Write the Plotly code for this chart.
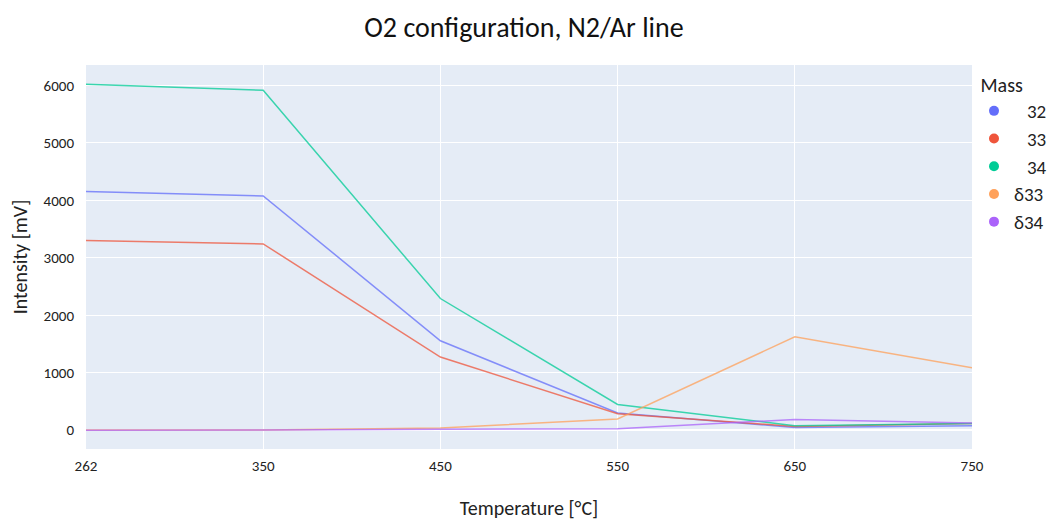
import plotly.graph_objects as go

temperatures = ["262", "350", "450", "550", "650", "750"]
series_names = ["32", "33", "34", "δ33", "δ34"]
mass_32 = [4153, 4078, 1557, 299, 49, 78]
mass_33 = [3301, 3243, 1273, 287, 66, 118]
mass_34 = [6022, 5917, 2292, 449, 78, 118]
delta_33 = [2, 3, 40, 195, 1626, 1087]
delta_34 = [1, 2, 17, 26, 188, 125]
colors = ["#636efa", "#EF553B", "#00cc96", "#FFA15A", "#AB63FA"]

all_series = [mass_32, mass_33, mass_34, delta_33, delta_34]
pad = "\u00a0\u00a0\u00a0"
legend_labels = [pad + "32", pad + "33", pad + "34", "δ33", "δ34"]

fig = go.Figure()
for name, vals, col, lab in zip(series_names, all_series, colors, legend_labels):
    fig.add_trace(go.Scatter(x=temperatures, y=vals, mode="lines", name=lab,
                             legendgroup=name, showlegend=False,
                             line=dict(color=col, width=1.5), opacity=0.75))
    fig.add_trace(go.Scatter(x=[None], y=[None], mode="markers", name=lab,
                             legendgroup=name, showlegend=True,
                             marker=dict(color=col, size=10)))

base_font = "Carlito, Calibri, Lato, sans-serif"
fig.update_layout(
    template="plotly",
    width=1056, height=522,
    margin=dict(l=78, r=92, t=57, b=81, autoexpand=False),
    font=dict(family=base_font, size=15, color="#222"),
    title=dict(text="O2 configuration, N2/Ar line", x=516 / 1056, xanchor="center",
               xref="container", yref="container",
               y=1 - 19 / 522, yanchor="middle",
               font=dict(family=base_font, size=28, color="#111")),
    legend=dict(title=dict(text="\u00a0Mass", font=dict(size=20)), font=dict(size=19),
                xref="container", yref="container",
                x=966 / 1056, xanchor="left", y=1 - 58 / 522, yanchor="top",
                tracegroupgap=0, itemwidth=30),
    xaxis=dict(type="category", categoryorder="array", categoryarray=temperatures,
               range=[0, 5], automargin=False, ticklabelstandoff=6,
               title=dict(text="Temperature [°C]", font=dict(size=20), standoff=26),
               tickfont=dict(size=15)),
    yaxis=dict(range=[-327, 6357], automargin=False, ticklabelstandoff=11,
               title=dict(text="Intensity [mV]", font=dict(size=20), standoff=14),
               tickvals=[0, 1000, 2000, 3000, 4000, 5000, 6000], tickfont=dict(size=15)),
)
fig.write_html("out.html")
